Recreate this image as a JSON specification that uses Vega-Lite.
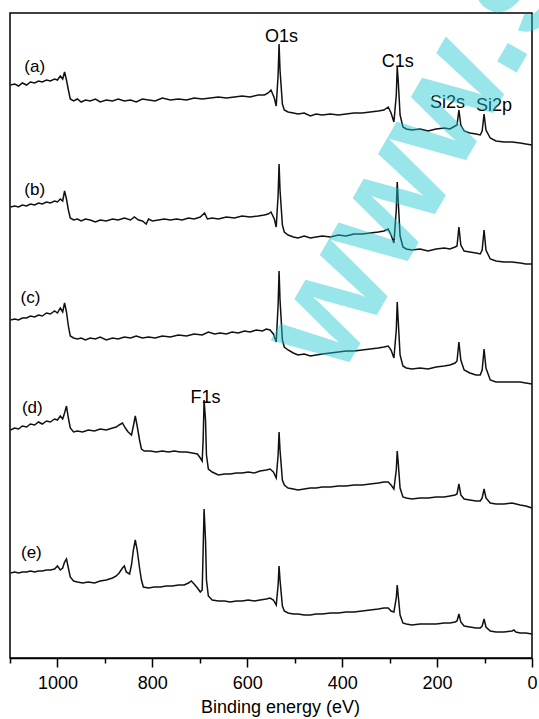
{
  "$schema": "https://vega.github.io/schema/vega-lite/v6.json",
  "autosize": "none",
  "width": 522,
  "height": 645,
  "padding": {"left": 10, "top": 13, "right": 7, "bottom": 61},
  "background": "white",
  "config": {
    "view": {"stroke": "black", "strokeWidth": 1.5},
    "font": "Liberation Sans"
  },
  "datasets": {
    "spectra": [
      {"sample": "a", "energy": 1099, "intensity": 573}, {"sample": "a", "energy": 1090, "intensity": 574}, {"sample": "a", "energy": 1082, "intensity": 572}, {"sample": "a", "energy": 1074, "intensity": 575}, {"sample": "a", "energy": 1065, "intensity": 573}, {"sample": "a", "energy": 1057, "intensity": 576}, {"sample": "a", "energy": 1048, "intensity": 575}, {"sample": "a", "energy": 1040, "intensity": 577}, {"sample": "a", "energy": 1032, "intensity": 576}, {"sample": "a", "energy": 1023, "intensity": 578}, {"sample": "a", "energy": 1015, "intensity": 577}, {"sample": "a", "energy": 1006, "intensity": 579}, {"sample": "a", "energy": 1000, "intensity": 578}, {"sample": "a", "energy": 994, "intensity": 582}, {"sample": "a", "energy": 989, "intensity": 579}, {"sample": "a", "energy": 985, "intensity": 586}, {"sample": "a", "energy": 981, "intensity": 578}, {"sample": "a", "energy": 977, "intensity": 568}, {"sample": "a", "energy": 973, "intensity": 559}, {"sample": "a", "energy": 966, "intensity": 557}, {"sample": "a", "energy": 958, "intensity": 559}, {"sample": "a", "energy": 950, "intensity": 556}, {"sample": "a", "energy": 941, "intensity": 558}, {"sample": "a", "energy": 931, "intensity": 557}, {"sample": "a", "energy": 920, "intensity": 559}, {"sample": "a", "energy": 910, "intensity": 556}, {"sample": "a", "energy": 897, "intensity": 558}, {"sample": "a", "energy": 884, "intensity": 557}, {"sample": "a", "energy": 872, "intensity": 559}, {"sample": "a", "energy": 859, "intensity": 557}, {"sample": "a", "energy": 846, "intensity": 558}, {"sample": "a", "energy": 834, "intensity": 556}, {"sample": "a", "energy": 821, "intensity": 559}, {"sample": "a", "energy": 808, "intensity": 558}, {"sample": "a", "energy": 794, "intensity": 557}, {"sample": "a", "energy": 779, "intensity": 560}, {"sample": "a", "energy": 762, "intensity": 558}, {"sample": "a", "energy": 745, "intensity": 559}, {"sample": "a", "energy": 728, "intensity": 558}, {"sample": "a", "energy": 712, "intensity": 560}, {"sample": "a", "energy": 695, "intensity": 559}, {"sample": "a", "energy": 678, "intensity": 560}, {"sample": "a", "energy": 661, "intensity": 561}, {"sample": "a", "energy": 644, "intensity": 560}, {"sample": "a", "energy": 627, "intensity": 561}, {"sample": "a", "energy": 611, "intensity": 562}, {"sample": "a", "energy": 594, "intensity": 561}, {"sample": "a", "energy": 577, "intensity": 563}, {"sample": "a", "energy": 564, "intensity": 563}, {"sample": "a", "energy": 556, "intensity": 565}, {"sample": "a", "energy": 550, "intensity": 568}, {"sample": "a", "energy": 543, "intensity": 560}, {"sample": "a", "energy": 539, "intensity": 552}, {"sample": "a", "energy": 535, "intensity": 583}, {"sample": "a", "energy": 533, "intensity": 614}, {"sample": "a", "energy": 531, "intensity": 588}, {"sample": "a", "energy": 526, "intensity": 554}, {"sample": "a", "energy": 522, "intensity": 548}, {"sample": "a", "energy": 514, "intensity": 546}, {"sample": "a", "energy": 503, "intensity": 545}, {"sample": "a", "energy": 493, "intensity": 544}, {"sample": "a", "energy": 480, "intensity": 545}, {"sample": "a", "energy": 467, "intensity": 542}, {"sample": "a", "energy": 455, "intensity": 544}, {"sample": "a", "energy": 442, "intensity": 543}, {"sample": "a", "energy": 425, "intensity": 544}, {"sample": "a", "energy": 408, "intensity": 543}, {"sample": "a", "energy": 392, "intensity": 544}, {"sample": "a", "energy": 375, "intensity": 545}, {"sample": "a", "energy": 358, "intensity": 545}, {"sample": "a", "energy": 341, "intensity": 546}, {"sample": "a", "energy": 324, "intensity": 547}, {"sample": "a", "energy": 312, "intensity": 548}, {"sample": "a", "energy": 303, "intensity": 551}, {"sample": "a", "energy": 297, "intensity": 545}, {"sample": "a", "energy": 291, "intensity": 536}, {"sample": "a", "energy": 286, "intensity": 563}, {"sample": "a", "energy": 284, "intensity": 591}, {"sample": "a", "energy": 282, "intensity": 578}, {"sample": "a", "energy": 278, "intensity": 543}, {"sample": "a", "energy": 272, "intensity": 531}, {"sample": "a", "energy": 265, "intensity": 529}, {"sample": "a", "energy": 253, "intensity": 528}, {"sample": "a", "energy": 236, "intensity": 529}, {"sample": "a", "energy": 219, "intensity": 527}, {"sample": "a", "energy": 202, "intensity": 529}, {"sample": "a", "energy": 185, "intensity": 530}, {"sample": "a", "energy": 173, "intensity": 529}, {"sample": "a", "energy": 162, "intensity": 532}, {"sample": "a", "energy": 158, "intensity": 533}, {"sample": "a", "energy": 154, "intensity": 548}, {"sample": "a", "energy": 150, "intensity": 533}, {"sample": "a", "energy": 143, "intensity": 527}, {"sample": "a", "energy": 131, "intensity": 525}, {"sample": "a", "energy": 118, "intensity": 524}, {"sample": "a", "energy": 109, "intensity": 523}, {"sample": "a", "energy": 105, "intensity": 527}, {"sample": "a", "energy": 101, "intensity": 544}, {"sample": "a", "energy": 97, "intensity": 528}, {"sample": "a", "energy": 88, "intensity": 520}, {"sample": "a", "energy": 76, "intensity": 517}, {"sample": "a", "energy": 59, "intensity": 516}, {"sample": "a", "energy": 42, "intensity": 516}, {"sample": "a", "energy": 25, "intensity": 515}, {"sample": "a", "energy": 13, "intensity": 514}, {"sample": "a", "energy": 0, "intensity": 513},

      {"sample": "b", "energy": 1099, "intensity": 451}, {"sample": "b", "energy": 1090, "intensity": 452}, {"sample": "b", "energy": 1082, "intensity": 451}, {"sample": "b", "energy": 1074, "intensity": 453}, {"sample": "b", "energy": 1065, "intensity": 452}, {"sample": "b", "energy": 1057, "intensity": 454}, {"sample": "b", "energy": 1048, "intensity": 453}, {"sample": "b", "energy": 1040, "intensity": 455}, {"sample": "b", "energy": 1032, "intensity": 454}, {"sample": "b", "energy": 1023, "intensity": 456}, {"sample": "b", "energy": 1015, "intensity": 455}, {"sample": "b", "energy": 1006, "intensity": 457}, {"sample": "b", "energy": 1000, "intensity": 456}, {"sample": "b", "energy": 994, "intensity": 459}, {"sample": "b", "energy": 989, "intensity": 457}, {"sample": "b", "energy": 985, "intensity": 467}, {"sample": "b", "energy": 981, "intensity": 459}, {"sample": "b", "energy": 977, "intensity": 448}, {"sample": "b", "energy": 973, "intensity": 440}, {"sample": "b", "energy": 966, "intensity": 438}, {"sample": "b", "energy": 958, "intensity": 439}, {"sample": "b", "energy": 950, "intensity": 437}, {"sample": "b", "energy": 941, "intensity": 439}, {"sample": "b", "energy": 931, "intensity": 438}, {"sample": "b", "energy": 920, "intensity": 436}, {"sample": "b", "energy": 910, "intensity": 438}, {"sample": "b", "energy": 897, "intensity": 437}, {"sample": "b", "energy": 884, "intensity": 439}, {"sample": "b", "energy": 872, "intensity": 438}, {"sample": "b", "energy": 859, "intensity": 440}, {"sample": "b", "energy": 846, "intensity": 438}, {"sample": "b", "energy": 838, "intensity": 441}, {"sample": "b", "energy": 829, "intensity": 438}, {"sample": "b", "energy": 821, "intensity": 437}, {"sample": "b", "energy": 813, "intensity": 434}, {"sample": "b", "energy": 808, "intensity": 439}, {"sample": "b", "energy": 800, "intensity": 437}, {"sample": "b", "energy": 787, "intensity": 438}, {"sample": "b", "energy": 775, "intensity": 439}, {"sample": "b", "energy": 762, "intensity": 438}, {"sample": "b", "energy": 749, "intensity": 439}, {"sample": "b", "energy": 737, "intensity": 438}, {"sample": "b", "energy": 724, "intensity": 440}, {"sample": "b", "energy": 712, "intensity": 439}, {"sample": "b", "energy": 699, "intensity": 441}, {"sample": "b", "energy": 690, "intensity": 445}, {"sample": "b", "energy": 684, "intensity": 439}, {"sample": "b", "energy": 674, "intensity": 440}, {"sample": "b", "energy": 661, "intensity": 439}, {"sample": "b", "energy": 644, "intensity": 441}, {"sample": "b", "energy": 627, "intensity": 440}, {"sample": "b", "energy": 611, "intensity": 442}, {"sample": "b", "energy": 594, "intensity": 441}, {"sample": "b", "energy": 577, "intensity": 442}, {"sample": "b", "energy": 564, "intensity": 443}, {"sample": "b", "energy": 556, "intensity": 444}, {"sample": "b", "energy": 550, "intensity": 446}, {"sample": "b", "energy": 543, "intensity": 439}, {"sample": "b", "energy": 539, "intensity": 431}, {"sample": "b", "energy": 535, "intensity": 463}, {"sample": "b", "energy": 533, "intensity": 494}, {"sample": "b", "energy": 531, "intensity": 468}, {"sample": "b", "energy": 526, "intensity": 433}, {"sample": "b", "energy": 522, "intensity": 426}, {"sample": "b", "energy": 514, "intensity": 423}, {"sample": "b", "energy": 503, "intensity": 421}, {"sample": "b", "energy": 493, "intensity": 420}, {"sample": "b", "energy": 480, "intensity": 422}, {"sample": "b", "energy": 467, "intensity": 420}, {"sample": "b", "energy": 455, "intensity": 421}, {"sample": "b", "energy": 442, "intensity": 422}, {"sample": "b", "energy": 425, "intensity": 421}, {"sample": "b", "energy": 408, "intensity": 423}, {"sample": "b", "energy": 392, "intensity": 422}, {"sample": "b", "energy": 375, "intensity": 424}, {"sample": "b", "energy": 358, "intensity": 424}, {"sample": "b", "energy": 341, "intensity": 425}, {"sample": "b", "energy": 324, "intensity": 426}, {"sample": "b", "energy": 312, "intensity": 427}, {"sample": "b", "energy": 303, "intensity": 429}, {"sample": "b", "energy": 297, "intensity": 423}, {"sample": "b", "energy": 291, "intensity": 415}, {"sample": "b", "energy": 286, "intensity": 448}, {"sample": "b", "energy": 284, "intensity": 476}, {"sample": "b", "energy": 282, "intensity": 458}, {"sample": "b", "energy": 278, "intensity": 422}, {"sample": "b", "energy": 272, "intensity": 411}, {"sample": "b", "energy": 265, "intensity": 409}, {"sample": "b", "energy": 253, "intensity": 408}, {"sample": "b", "energy": 236, "intensity": 409}, {"sample": "b", "energy": 219, "intensity": 407}, {"sample": "b", "energy": 202, "intensity": 409}, {"sample": "b", "energy": 185, "intensity": 410}, {"sample": "b", "energy": 173, "intensity": 409}, {"sample": "b", "energy": 162, "intensity": 411}, {"sample": "b", "energy": 158, "intensity": 412}, {"sample": "b", "energy": 154, "intensity": 431}, {"sample": "b", "energy": 150, "intensity": 413}, {"sample": "b", "energy": 143, "intensity": 407}, {"sample": "b", "energy": 131, "intensity": 406}, {"sample": "b", "energy": 118, "intensity": 405}, {"sample": "b", "energy": 109, "intensity": 404}, {"sample": "b", "energy": 105, "intensity": 408}, {"sample": "b", "energy": 101, "intensity": 428}, {"sample": "b", "energy": 97, "intensity": 408}, {"sample": "b", "energy": 88, "intensity": 399}, {"sample": "b", "energy": 76, "intensity": 397}, {"sample": "b", "energy": 59, "intensity": 396}, {"sample": "b", "energy": 42, "intensity": 396}, {"sample": "b", "energy": 25, "intensity": 395}, {"sample": "b", "energy": 13, "intensity": 394}, {"sample": "b", "energy": 0, "intensity": 394},

      {"sample": "c", "energy": 1099, "intensity": 338}, {"sample": "c", "energy": 1090, "intensity": 339}, {"sample": "c", "energy": 1082, "intensity": 338}, {"sample": "c", "energy": 1074, "intensity": 340}, {"sample": "c", "energy": 1065, "intensity": 340}, {"sample": "c", "energy": 1057, "intensity": 342}, {"sample": "c", "energy": 1048, "intensity": 341}, {"sample": "c", "energy": 1040, "intensity": 343}, {"sample": "c", "energy": 1032, "intensity": 342}, {"sample": "c", "energy": 1023, "intensity": 345}, {"sample": "c", "energy": 1015, "intensity": 344}, {"sample": "c", "energy": 1006, "intensity": 347}, {"sample": "c", "energy": 1000, "intensity": 345}, {"sample": "c", "energy": 994, "intensity": 350}, {"sample": "c", "energy": 989, "intensity": 346}, {"sample": "c", "energy": 985, "intensity": 355}, {"sample": "c", "energy": 981, "intensity": 346}, {"sample": "c", "energy": 977, "intensity": 332}, {"sample": "c", "energy": 973, "intensity": 322}, {"sample": "c", "energy": 966, "intensity": 320}, {"sample": "c", "energy": 958, "intensity": 319}, {"sample": "c", "energy": 950, "intensity": 320}, {"sample": "c", "energy": 941, "intensity": 318}, {"sample": "c", "energy": 931, "intensity": 320}, {"sample": "c", "energy": 920, "intensity": 319}, {"sample": "c", "energy": 910, "intensity": 321}, {"sample": "c", "energy": 897, "intensity": 318}, {"sample": "c", "energy": 884, "intensity": 320}, {"sample": "c", "energy": 872, "intensity": 319}, {"sample": "c", "energy": 859, "intensity": 321}, {"sample": "c", "energy": 846, "intensity": 320}, {"sample": "c", "energy": 834, "intensity": 322}, {"sample": "c", "energy": 821, "intensity": 320}, {"sample": "c", "energy": 808, "intensity": 321}, {"sample": "c", "energy": 794, "intensity": 320}, {"sample": "c", "energy": 779, "intensity": 322}, {"sample": "c", "energy": 762, "intensity": 321}, {"sample": "c", "energy": 745, "intensity": 323}, {"sample": "c", "energy": 728, "intensity": 322}, {"sample": "c", "energy": 712, "intensity": 324}, {"sample": "c", "energy": 695, "intensity": 323}, {"sample": "c", "energy": 682, "intensity": 326}, {"sample": "c", "energy": 669, "intensity": 324}, {"sample": "c", "energy": 657, "intensity": 325}, {"sample": "c", "energy": 644, "intensity": 324}, {"sample": "c", "energy": 632, "intensity": 326}, {"sample": "c", "energy": 619, "intensity": 325}, {"sample": "c", "energy": 606, "intensity": 327}, {"sample": "c", "energy": 594, "intensity": 326}, {"sample": "c", "energy": 581, "intensity": 328}, {"sample": "c", "energy": 568, "intensity": 327}, {"sample": "c", "energy": 560, "intensity": 329}, {"sample": "c", "energy": 552, "intensity": 328}, {"sample": "c", "energy": 545, "intensity": 324}, {"sample": "c", "energy": 539, "intensity": 316}, {"sample": "c", "energy": 535, "intensity": 353}, {"sample": "c", "energy": 533, "intensity": 387}, {"sample": "c", "energy": 531, "intensity": 358}, {"sample": "c", "energy": 526, "intensity": 318}, {"sample": "c", "energy": 522, "intensity": 311}, {"sample": "c", "energy": 514, "intensity": 308}, {"sample": "c", "energy": 503, "intensity": 305}, {"sample": "c", "energy": 493, "intensity": 303}, {"sample": "c", "energy": 480, "intensity": 304}, {"sample": "c", "energy": 467, "intensity": 302}, {"sample": "c", "energy": 455, "intensity": 303}, {"sample": "c", "energy": 442, "intensity": 304}, {"sample": "c", "energy": 425, "intensity": 305}, {"sample": "c", "energy": 408, "intensity": 306}, {"sample": "c", "energy": 392, "intensity": 307}, {"sample": "c", "energy": 375, "intensity": 307}, {"sample": "c", "energy": 358, "intensity": 308}, {"sample": "c", "energy": 341, "intensity": 309}, {"sample": "c", "energy": 324, "intensity": 310}, {"sample": "c", "energy": 312, "intensity": 311}, {"sample": "c", "energy": 303, "intensity": 312}, {"sample": "c", "energy": 297, "intensity": 308}, {"sample": "c", "energy": 291, "intensity": 300}, {"sample": "c", "energy": 286, "intensity": 328}, {"sample": "c", "energy": 284, "intensity": 356}, {"sample": "c", "energy": 282, "intensity": 338}, {"sample": "c", "energy": 278, "intensity": 303}, {"sample": "c", "energy": 272, "intensity": 292}, {"sample": "c", "energy": 265, "intensity": 290}, {"sample": "c", "energy": 253, "intensity": 289}, {"sample": "c", "energy": 236, "intensity": 290}, {"sample": "c", "energy": 219, "intensity": 289}, {"sample": "c", "energy": 202, "intensity": 291}, {"sample": "c", "energy": 185, "intensity": 292}, {"sample": "c", "energy": 173, "intensity": 293}, {"sample": "c", "energy": 162, "intensity": 295}, {"sample": "c", "energy": 158, "intensity": 297}, {"sample": "c", "energy": 154, "intensity": 316}, {"sample": "c", "energy": 150, "intensity": 298}, {"sample": "c", "energy": 143, "intensity": 288}, {"sample": "c", "energy": 131, "intensity": 285}, {"sample": "c", "energy": 118, "intensity": 283}, {"sample": "c", "energy": 109, "intensity": 283}, {"sample": "c", "energy": 105, "intensity": 288}, {"sample": "c", "energy": 101, "intensity": 309}, {"sample": "c", "energy": 97, "intensity": 290}, {"sample": "c", "energy": 88, "intensity": 278}, {"sample": "c", "energy": 76, "intensity": 276}, {"sample": "c", "energy": 59, "intensity": 276}, {"sample": "c", "energy": 42, "intensity": 276}, {"sample": "c", "energy": 25, "intensity": 276}, {"sample": "c", "energy": 13, "intensity": 275}, {"sample": "c", "energy": 0, "intensity": 274},

      {"sample": "d", "energy": 1099, "intensity": 228}, {"sample": "d", "energy": 1090, "intensity": 230}, {"sample": "d", "energy": 1082, "intensity": 229}, {"sample": "d", "energy": 1074, "intensity": 232}, {"sample": "d", "energy": 1065, "intensity": 231}, {"sample": "d", "energy": 1057, "intensity": 234}, {"sample": "d", "energy": 1048, "intensity": 233}, {"sample": "d", "energy": 1040, "intensity": 236}, {"sample": "d", "energy": 1032, "intensity": 234}, {"sample": "d", "energy": 1023, "intensity": 237}, {"sample": "d", "energy": 1015, "intensity": 236}, {"sample": "d", "energy": 1006, "intensity": 239}, {"sample": "d", "energy": 1000, "intensity": 238}, {"sample": "d", "energy": 994, "intensity": 242}, {"sample": "d", "energy": 989, "intensity": 239}, {"sample": "d", "energy": 985, "intensity": 245}, {"sample": "d", "energy": 981, "intensity": 252}, {"sample": "d", "energy": 977, "intensity": 240}, {"sample": "d", "energy": 973, "intensity": 230}, {"sample": "d", "energy": 966, "intensity": 226}, {"sample": "d", "energy": 958, "intensity": 227}, {"sample": "d", "energy": 947, "intensity": 226}, {"sample": "d", "energy": 935, "intensity": 228}, {"sample": "d", "energy": 922, "intensity": 227}, {"sample": "d", "energy": 910, "intensity": 229}, {"sample": "d", "energy": 897, "intensity": 228}, {"sample": "d", "energy": 884, "intensity": 230}, {"sample": "d", "energy": 876, "intensity": 231}, {"sample": "d", "energy": 870, "intensity": 233}, {"sample": "d", "energy": 863, "intensity": 235}, {"sample": "d", "energy": 857, "intensity": 230}, {"sample": "d", "energy": 851, "intensity": 226}, {"sample": "d", "energy": 844, "intensity": 223}, {"sample": "d", "energy": 840, "intensity": 232}, {"sample": "d", "energy": 836, "intensity": 242}, {"sample": "d", "energy": 832, "intensity": 232}, {"sample": "d", "energy": 827, "intensity": 218}, {"sample": "d", "energy": 823, "intensity": 209}, {"sample": "d", "energy": 817, "intensity": 207}, {"sample": "d", "energy": 804, "intensity": 207}, {"sample": "d", "energy": 792, "intensity": 206}, {"sample": "d", "energy": 779, "intensity": 207}, {"sample": "d", "energy": 766, "intensity": 206}, {"sample": "d", "energy": 754, "intensity": 207}, {"sample": "d", "energy": 741, "intensity": 206}, {"sample": "d", "energy": 728, "intensity": 206}, {"sample": "d", "energy": 716, "intensity": 205}, {"sample": "d", "energy": 705, "intensity": 204}, {"sample": "d", "energy": 699, "intensity": 200}, {"sample": "d", "energy": 695, "intensity": 197}, {"sample": "d", "energy": 693, "intensity": 218}, {"sample": "d", "energy": 691, "intensity": 258}, {"sample": "d", "energy": 688, "intensity": 238}, {"sample": "d", "energy": 686, "intensity": 203}, {"sample": "d", "energy": 682, "intensity": 189}, {"sample": "d", "energy": 674, "intensity": 186}, {"sample": "d", "energy": 661, "intensity": 183}, {"sample": "d", "energy": 648, "intensity": 184}, {"sample": "d", "energy": 636, "intensity": 184}, {"sample": "d", "energy": 623, "intensity": 185}, {"sample": "d", "energy": 611, "intensity": 185}, {"sample": "d", "energy": 598, "intensity": 186}, {"sample": "d", "energy": 585, "intensity": 185}, {"sample": "d", "energy": 573, "intensity": 187}, {"sample": "d", "energy": 560, "intensity": 188}, {"sample": "d", "energy": 552, "intensity": 189}, {"sample": "d", "energy": 545, "intensity": 186}, {"sample": "d", "energy": 539, "intensity": 180}, {"sample": "d", "energy": 535, "intensity": 203}, {"sample": "d", "energy": 533, "intensity": 226}, {"sample": "d", "energy": 531, "intensity": 208}, {"sample": "d", "energy": 526, "intensity": 178}, {"sample": "d", "energy": 522, "intensity": 173}, {"sample": "d", "energy": 514, "intensity": 170}, {"sample": "d", "energy": 503, "intensity": 169}, {"sample": "d", "energy": 493, "intensity": 168}, {"sample": "d", "energy": 480, "intensity": 169}, {"sample": "d", "energy": 467, "intensity": 170}, {"sample": "d", "energy": 455, "intensity": 170}, {"sample": "d", "energy": 442, "intensity": 171}, {"sample": "d", "energy": 425, "intensity": 171}, {"sample": "d", "energy": 408, "intensity": 172}, {"sample": "d", "energy": 392, "intensity": 172}, {"sample": "d", "energy": 375, "intensity": 173}, {"sample": "d", "energy": 358, "intensity": 173}, {"sample": "d", "energy": 341, "intensity": 174}, {"sample": "d", "energy": 324, "intensity": 175}, {"sample": "d", "energy": 312, "intensity": 176}, {"sample": "d", "energy": 303, "intensity": 176}, {"sample": "d", "energy": 297, "intensity": 173}, {"sample": "d", "energy": 291, "intensity": 169}, {"sample": "d", "energy": 286, "intensity": 188}, {"sample": "d", "energy": 284, "intensity": 207}, {"sample": "d", "energy": 282, "intensity": 196}, {"sample": "d", "energy": 278, "intensity": 170}, {"sample": "d", "energy": 272, "intensity": 161}, {"sample": "d", "energy": 265, "intensity": 160}, {"sample": "d", "energy": 253, "intensity": 159}, {"sample": "d", "energy": 236, "intensity": 160}, {"sample": "d", "energy": 219, "intensity": 160}, {"sample": "d", "energy": 202, "intensity": 161}, {"sample": "d", "energy": 185, "intensity": 161}, {"sample": "d", "energy": 173, "intensity": 162}, {"sample": "d", "energy": 162, "intensity": 163}, {"sample": "d", "energy": 158, "intensity": 164}, {"sample": "d", "energy": 154, "intensity": 174}, {"sample": "d", "energy": 150, "intensity": 163}, {"sample": "d", "energy": 143, "intensity": 159}, {"sample": "d", "energy": 131, "intensity": 158}, {"sample": "d", "energy": 118, "intensity": 157}, {"sample": "d", "energy": 109, "intensity": 157}, {"sample": "d", "energy": 105, "intensity": 160}, {"sample": "d", "energy": 101, "intensity": 169}, {"sample": "d", "energy": 97, "intensity": 160}, {"sample": "d", "energy": 88, "intensity": 155}, {"sample": "d", "energy": 76, "intensity": 154}, {"sample": "d", "energy": 59, "intensity": 154}, {"sample": "d", "energy": 42, "intensity": 155}, {"sample": "d", "energy": 25, "intensity": 153}, {"sample": "d", "energy": 13, "intensity": 152}, {"sample": "d", "energy": 0, "intensity": 150},

      {"sample": "e", "energy": 1099, "intensity": 85}, {"sample": "e", "energy": 1090, "intensity": 86}, {"sample": "e", "energy": 1082, "intensity": 85}, {"sample": "e", "energy": 1074, "intensity": 86}, {"sample": "e", "energy": 1065, "intensity": 86}, {"sample": "e", "energy": 1057, "intensity": 87}, {"sample": "e", "energy": 1048, "intensity": 86}, {"sample": "e", "energy": 1040, "intensity": 87}, {"sample": "e", "energy": 1032, "intensity": 87}, {"sample": "e", "energy": 1023, "intensity": 88}, {"sample": "e", "energy": 1015, "intensity": 88}, {"sample": "e", "energy": 1006, "intensity": 89}, {"sample": "e", "energy": 1000, "intensity": 92}, {"sample": "e", "energy": 994, "intensity": 88}, {"sample": "e", "energy": 989, "intensity": 90}, {"sample": "e", "energy": 985, "intensity": 96}, {"sample": "e", "energy": 981, "intensity": 99}, {"sample": "e", "energy": 977, "intensity": 90}, {"sample": "e", "energy": 973, "intensity": 81}, {"sample": "e", "energy": 966, "intensity": 77}, {"sample": "e", "energy": 958, "intensity": 76}, {"sample": "e", "energy": 947, "intensity": 75}, {"sample": "e", "energy": 935, "intensity": 76}, {"sample": "e", "energy": 922, "intensity": 75}, {"sample": "e", "energy": 910, "intensity": 77}, {"sample": "e", "energy": 897, "intensity": 78}, {"sample": "e", "energy": 884, "intensity": 80}, {"sample": "e", "energy": 876, "intensity": 82}, {"sample": "e", "energy": 870, "intensity": 85}, {"sample": "e", "energy": 863, "intensity": 90}, {"sample": "e", "energy": 859, "intensity": 92}, {"sample": "e", "energy": 855, "intensity": 86}, {"sample": "e", "energy": 848, "intensity": 84}, {"sample": "e", "energy": 844, "intensity": 93}, {"sample": "e", "energy": 840, "intensity": 108}, {"sample": "e", "energy": 836, "intensity": 118}, {"sample": "e", "energy": 832, "intensity": 108}, {"sample": "e", "energy": 827, "intensity": 90}, {"sample": "e", "energy": 823, "intensity": 78}, {"sample": "e", "energy": 819, "intensity": 71}, {"sample": "e", "energy": 808, "intensity": 70}, {"sample": "e", "energy": 796, "intensity": 71}, {"sample": "e", "energy": 783, "intensity": 71}, {"sample": "e", "energy": 771, "intensity": 72}, {"sample": "e", "energy": 758, "intensity": 72}, {"sample": "e", "energy": 745, "intensity": 73}, {"sample": "e", "energy": 733, "intensity": 73}, {"sample": "e", "energy": 724, "intensity": 75}, {"sample": "e", "energy": 718, "intensity": 77}, {"sample": "e", "energy": 712, "intensity": 74}, {"sample": "e", "energy": 705, "intensity": 70}, {"sample": "e", "energy": 699, "intensity": 66}, {"sample": "e", "energy": 695, "intensity": 68}, {"sample": "e", "energy": 693, "intensity": 108}, {"sample": "e", "energy": 691, "intensity": 149}, {"sample": "e", "energy": 688, "intensity": 118}, {"sample": "e", "energy": 686, "intensity": 78}, {"sample": "e", "energy": 682, "intensity": 62}, {"sample": "e", "energy": 674, "intensity": 58}, {"sample": "e", "energy": 661, "intensity": 57}, {"sample": "e", "energy": 648, "intensity": 57}, {"sample": "e", "energy": 636, "intensity": 56}, {"sample": "e", "energy": 623, "intensity": 57}, {"sample": "e", "energy": 611, "intensity": 57}, {"sample": "e", "energy": 598, "intensity": 58}, {"sample": "e", "energy": 585, "intensity": 57}, {"sample": "e", "energy": 573, "intensity": 58}, {"sample": "e", "energy": 560, "intensity": 59}, {"sample": "e", "energy": 552, "intensity": 60}, {"sample": "e", "energy": 545, "intensity": 58}, {"sample": "e", "energy": 539, "intensity": 53}, {"sample": "e", "energy": 535, "intensity": 73}, {"sample": "e", "energy": 533, "intensity": 92}, {"sample": "e", "energy": 531, "intensity": 78}, {"sample": "e", "energy": 526, "intensity": 52}, {"sample": "e", "energy": 522, "intensity": 47}, {"sample": "e", "energy": 514, "intensity": 45}, {"sample": "e", "energy": 503, "intensity": 44}, {"sample": "e", "energy": 493, "intensity": 44}, {"sample": "e", "energy": 480, "intensity": 43}, {"sample": "e", "energy": 467, "intensity": 43}, {"sample": "e", "energy": 455, "intensity": 44}, {"sample": "e", "energy": 442, "intensity": 44}, {"sample": "e", "energy": 425, "intensity": 45}, {"sample": "e", "energy": 408, "intensity": 45}, {"sample": "e", "energy": 392, "intensity": 46}, {"sample": "e", "energy": 375, "intensity": 46}, {"sample": "e", "energy": 358, "intensity": 47}, {"sample": "e", "energy": 341, "intensity": 48}, {"sample": "e", "energy": 324, "intensity": 49}, {"sample": "e", "energy": 312, "intensity": 50}, {"sample": "e", "energy": 303, "intensity": 50}, {"sample": "e", "energy": 297, "intensity": 47}, {"sample": "e", "energy": 291, "intensity": 46}, {"sample": "e", "energy": 286, "intensity": 60}, {"sample": "e", "energy": 284, "intensity": 73}, {"sample": "e", "energy": 282, "intensity": 63}, {"sample": "e", "energy": 278, "intensity": 43}, {"sample": "e", "energy": 272, "intensity": 35}, {"sample": "e", "energy": 265, "intensity": 34}, {"sample": "e", "energy": 253, "intensity": 33}, {"sample": "e", "energy": 236, "intensity": 34}, {"sample": "e", "energy": 219, "intensity": 34}, {"sample": "e", "energy": 202, "intensity": 34}, {"sample": "e", "energy": 185, "intensity": 35}, {"sample": "e", "energy": 173, "intensity": 35}, {"sample": "e", "energy": 162, "intensity": 36}, {"sample": "e", "energy": 158, "intensity": 37}, {"sample": "e", "energy": 154, "intensity": 44}, {"sample": "e", "energy": 150, "intensity": 36}, {"sample": "e", "energy": 143, "intensity": 32}, {"sample": "e", "energy": 131, "intensity": 31}, {"sample": "e", "energy": 118, "intensity": 30}, {"sample": "e", "energy": 109, "intensity": 30}, {"sample": "e", "energy": 105, "intensity": 32}, {"sample": "e", "energy": 101, "intensity": 39}, {"sample": "e", "energy": 97, "intensity": 31}, {"sample": "e", "energy": 88, "intensity": 27}, {"sample": "e", "energy": 76, "intensity": 26}, {"sample": "e", "energy": 59, "intensity": 26}, {"sample": "e", "energy": 42, "intensity": 27}, {"sample": "e", "energy": 38, "intensity": 28}, {"sample": "e", "energy": 34, "intensity": 26}, {"sample": "e", "energy": 25, "intensity": 25}, {"sample": "e", "energy": 13, "intensity": 25}, {"sample": "e", "energy": 0, "intensity": 24}
    ],
    "sampleLabels": [
      {"label": "(a)", "energy": 1048, "intensity": 586},
      {"label": "(b)", "energy": 1048, "intensity": 463},
      {"label": "(c)", "energy": 1057, "intensity": 355},
      {"label": "(d)", "energy": 1053, "intensity": 245},
      {"label": "(e)", "energy": 1055, "intensity": 100}
    ],
    "peakLabels": [
      {"label": "O1s", "energy": 528, "intensity": 616},
      {"label": "C1s", "energy": 283, "intensity": 591},
      {"label": "Si2s", "energy": 178, "intensity": 550},
      {"label": "Si2p", "energy": 80, "intensity": 547},
      {"label": "F1s", "energy": 688, "intensity": 255}
    ],
    "credit": [{"text": "www.s"}]
  },
  "resolve": {"axis": {"x": "independent"}},
  "layer": [
    {
      "data": {"name": "spectra"},
      "mark": {"type": "line", "color": "#111111", "strokeWidth": 1.5},
      "encoding": {
        "x": {
          "field": "energy", "type": "quantitative",
          "scale": {"domain": [0, 1100], "reverse": true, "nice": false, "zero": false},
          "axis": {
            "orient": "bottom", "values": [0, 200, 400, 600, 800, 1000], "format": "d",
            "tickSize": 9, "tickWidth": 1.5, "tickColor": "black",
            "domain": true, "domainColor": "black", "domainWidth": 1.5, "grid": false,
            "labelFont": "Liberation Sans", "labelFontSize": 18, "labelColor": "black",
            "labelPadding": 7, "labelFlush": false, "labelOverlap": false,
            "title": "Binding energy (eV)", "titleFont": "Liberation Sans", "titleFontSize": 18,
            "titleFontWeight": "normal", "titleColor": "black", "titlePadding": 6, "titleX": 270
          }
        },
        "y": {
          "field": "intensity", "type": "quantitative",
          "scale": {"domain": [0, 645], "nice": false, "zero": false},
          "axis": null
        },
        "detail": {"field": "sample", "type": "nominal"}
      }
    },
    {
      "data": {"name": "sampleLabels"},
      "mark": {"type": "text", "font": "Liberation Sans", "fontSize": 17, "align": "center", "baseline": "alphabetic", "color": "black"},
      "encoding": {
        "x": {
          "field": "energy", "type": "quantitative",
          "scale": {"domain": [0, 1100], "reverse": true, "nice": false, "zero": false},
          "axis": {
            "orient": "bottom", "values": [100, 300, 500, 700, 900, 1100],
            "tickSize": 5, "tickWidth": 1.5, "tickColor": "black",
            "labels": false, "domain": false, "grid": false, "title": null
          }
        },
        "y": {"field": "intensity", "type": "quantitative", "scale": {"domain": [0, 645], "nice": false, "zero": false}, "axis": null},
        "text": {"field": "label"}
      }
    },
    {
      "data": {"name": "peakLabels"},
      "mark": {"type": "text", "font": "Liberation Sans", "fontSize": 18, "align": "center", "baseline": "alphabetic", "color": "black"},
      "encoding": {
        "x": {"field": "energy", "type": "quantitative", "scale": {"domain": [0, 1100], "reverse": true, "nice": false, "zero": false}, "axis": null},
        "y": {"field": "intensity", "type": "quantitative", "scale": {"domain": [0, 645], "nice": false, "zero": false}, "axis": null},
        "text": {"field": "label"}
      }
    },
    {
      "data": {"name": "credit"},
      "mark": {"type": "text", "font": "Liberation Sans", "fontWeight": "bold", "fontSize": 150, "angle": -60, "align": "left", "baseline": "middle", "color": "#1cc6d2", "opacity": 0.45},
      "encoding": {
        "x": {"datum": 488, "type": "quantitative", "axis": null},
        "y": {"datum": 301, "type": "quantitative", "axis": null},
        "text": {"field": "text"}
      }
    }
  ]
}
